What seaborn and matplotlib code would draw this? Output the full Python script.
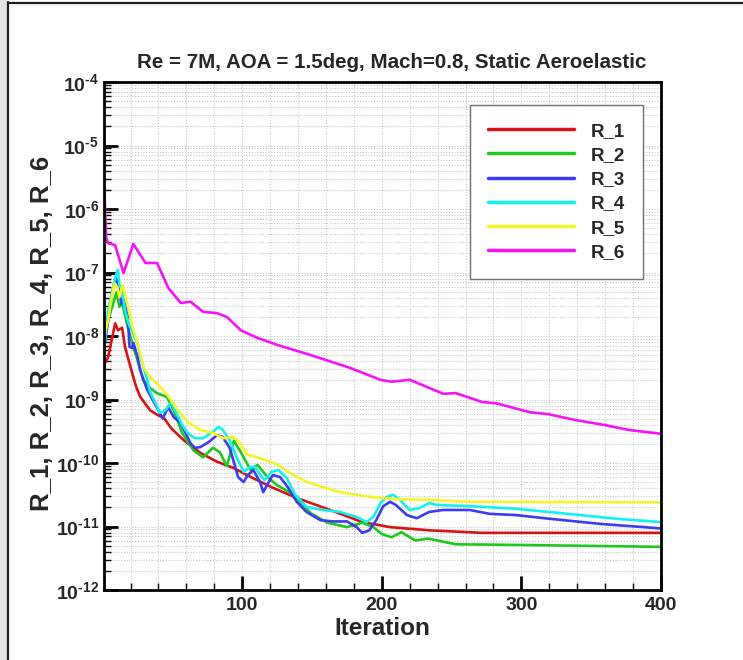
import numpy as np
import pandas as pd
import matplotlib
matplotlib.use("Agg")
import matplotlib.pyplot as plt
import seaborn as sns
from matplotlib.ticker import FixedLocator, FixedFormatter, LogLocator, NullFormatter
from matplotlib.patches import Rectangle
from matplotlib.lines import Line2D

# ---- data (iteration, log10 residual) ----
r1_it = [1, 4, 9, 11, 14, 16, 20, 24, 27, 34, 39, 44, 49, 58, 70, 82, 94, 106, 122, 139, 163, 186, 206, 234, 272, 330, 400]
r1_lg = [-8.46, -8.33, -7.80, -7.91, -7.87, -8.17, -8.49, -8.80, -8.96, -9.17, -9.24, -9.29, -9.45, -9.64, -9.84, -9.98,
         -10.08, -10.22, -10.39, -10.55, -10.74, -10.93, -11.01, -11.06, -11.10, -11.10, -11.10]

r2_it = [1, 4, 10, 12, 14, 18, 22, 25, 29, 34, 39, 46, 51, 57, 65, 72, 79, 84, 89, 94, 99, 106, 111, 118, 125, 134, 139,
         149, 161, 175, 186, 194, 200, 207, 214, 224, 233, 253, 296, 400]
r2_lg = [-8.0, -7.75, -7.31, -7.54, -7.48, -7.86, -8.17, -8.38, -8.69, -8.82, -8.90, -8.96, -9.17, -9.53, -9.80, -9.91,
         -9.76, -9.83, -10.05, -9.65, -9.83, -10.11, -10.03, -10.22, -10.35, -10.46, -10.55, -10.79, -10.94, -11.01,
         -10.94, -11.01, -11.12, -11.17, -11.09, -11.22, -11.19, -11.28, -11.29, -11.32]

r3_it = [1, 4, 7, 9.5, 11.5, 13.6, 15, 18, 19.3, 21.4, 22.1, 25, 27, 29.3, 32, 36, 39, 43, 47, 51, 56, 59, 63, 66, 70,
         76, 82, 86, 91, 95, 97, 101, 104, 108, 113, 115, 119, 122, 127, 133, 139, 146, 156, 165, 175, 182, 186, 191,
         196, 201, 206, 210, 218, 225, 234, 244, 263, 277, 296, 321, 357, 400]
r3_lg = [-8.2, -7.75, -7.30, -7.07, -7.24, -7.50, -7.43, -7.70, -8.17, -8.19, -8.11, -8.33, -8.54, -8.69, -8.85, -9.01,
         -9.13, -9.30, -9.12, -9.28, -9.37, -9.51, -9.69, -9.76, -9.75, -9.67, -9.56, -9.59, -9.76, -10.06, -10.22,
         -10.30, -10.19, -10.11, -10.31, -10.46, -10.30, -10.19, -10.22, -10.39, -10.61, -10.77, -10.90, -10.92,
         -10.92, -11.01, -11.10, -11.06, -10.90, -10.68, -10.61, -10.66, -10.82, -10.87, -10.77, -10.74, -10.74,
         -10.80, -10.82, -10.88, -10.96, -11.03]

r4_it = [1, 4, 8, 10, 11, 12, 14, 16, 19, 21, 23, 25, 27, 32, 34, 38, 41, 45, 49, 52, 57, 61, 66, 72, 79, 83, 86, 91,
         96, 101, 106, 109, 114, 116, 121, 126, 132, 138, 146, 158, 170, 182, 189, 194, 199, 204, 208, 213, 220, 227,
         234, 239, 263, 296, 333, 369, 400]
r4_lg = [-8.2, -7.6, -7.17, -7.01, -6.96, -7.20, -7.28, -7.59, -7.83, -7.91, -8.03, -8.11, -8.33, -8.69, -8.88, -9.06,
         -9.21, -9.17, -9.04, -9.17, -9.40, -9.53, -9.61, -9.61, -9.51, -9.43, -9.48, -9.64, -9.91, -10.14, -10.06,
         -10.06, -10.22, -10.27, -10.14, -10.11, -10.24, -10.50, -10.69, -10.74, -10.77, -10.85, -10.93, -10.85,
         -10.63, -10.53, -10.50, -10.58, -10.74, -10.71, -10.63, -10.66, -10.68, -10.72, -10.80, -10.88, -10.93]

r5_it = [1, 4, 7, 8.6, 10.7, 12, 14.3, 15.7, 18, 21.4, 25, 29.3, 34.3, 40, 46.4, 53.6, 60.7, 70, 79.3, 86.4, 93.6,
         98.6, 103.6, 110.7, 120, 125.7, 134.3, 146.4, 157.9, 170, 182, 193.6, 210.7, 234, 260, 400]
r5_lg = [-8.0, -7.75, -7.32, -7.17, -7.24, -7.39, -7.20, -7.31, -7.51, -7.86, -8.11, -8.49, -8.66, -8.77, -8.93, -9.16,
         -9.35, -9.48, -9.53, -9.61, -9.59, -9.69, -9.87, -9.91, -9.98, -10.03, -10.16, -10.30, -10.38, -10.46, -10.50,
         -10.54, -10.57, -10.58, -10.61, -10.62]

r6_it = [1, 2.5, 4, 9, 15, 22, 30.7, 39, 47, 56, 63, 72, 82, 89, 99, 111, 125, 149, 177, 199, 207, 220, 244, 253, 272,
         282, 306, 319, 338, 359, 377, 400]
r6_lg = [-5.51, -6.45, -6.54, -6.57, -7.01, -6.55, -6.85, -6.85, -7.24, -7.48, -7.46, -7.62, -7.64, -7.70, -7.91, -8.03,
         -8.14, -8.30, -8.50, -8.69, -8.72, -8.69, -8.91, -8.90, -9.04, -9.06, -9.20, -9.23, -9.32, -9.40, -9.48, -9.54]

series_names = ["R_1", "R_2", "R_3", "R_4", "R_5", "R_6"]
series_it = [r1_it, r2_it, r3_it, r4_it, r5_it, r6_it]
series_lg = [r1_lg, r2_lg, r3_lg, r4_lg, r5_lg, r6_lg]
colors = ["#d61414", "#1ec81e", "#3c3cf0", "#14f0f0", "#f5f52a", "#f514f5"]

x_ticks = [100, 200, 300, 400]
y_exps = [-12, -11, -10, -9, -8, -7, -6, -5, -4]

title = "Re = 7M, AOA = 1.5deg, Mach=0.8, Static Aeroelastic"
xlabel = "Iteration"
ylabel = "R_1, R_2, R_3, R_4, R_5, R_6"

frames = []
for name, it, lg in zip(series_names, series_it, series_lg):
    frames.append(pd.DataFrame({"Iteration": it, "Residual": 10.0 ** np.array(lg), "Series": name}))
df = pd.concat(frames, ignore_index=True)

# ---- style ----
sns.set_theme(style="white")
plt.rcParams["font.family"] = ["Liberation Sans", "DejaVu Sans"]
plt.rcParams["font.weight"] = "bold"
plt.rcParams["mathtext.fontset"] = "custom"
plt.rcParams["mathtext.rm"] = "Liberation Sans:bold"
plt.rcParams["mathtext.bf"] = "Liberation Sans:bold"
plt.rcParams["mathtext.it"] = "Liberation Sans:bold"
plt.rcParams["mathtext.default"] = "rm"

fig = plt.figure(figsize=(7.43, 6.60), dpi=100)
ax = fig.add_axes([104 / 743, 1 - 590 / 660, 557 / 743, 508 / 660])

sns.lineplot(data=df, x="Iteration", y="Residual", hue="Series", palette=colors,
             estimator=None, sort=False, linewidth=1.9, ax=ax, legend=False)

ax.set_yscale("log")
ax.set_xlim(1, 400)
ax.set_ylim(1e-12, 1e-4)

ax.yaxis.set_major_locator(FixedLocator([10.0 ** e for e in y_exps]))
ax.yaxis.set_major_formatter(FixedFormatter(["$10^{\u2010%d}$" % abs(e) for e in y_exps]))
ax.yaxis.set_minor_locator(LogLocator(base=10, subs=np.arange(2, 10), numticks=50))
ax.yaxis.set_minor_formatter(NullFormatter())
ax.xaxis.set_major_locator(FixedLocator(x_ticks))
ax.xaxis.set_major_formatter(FixedFormatter([str(v) for v in x_ticks]))
ax.xaxis.set_minor_locator(FixedLocator(list(range(20, 400, 20))))

ax.grid(True, which="both", axis="both", color="#c8c8c8", linestyle=(0, (1, 1.5)), linewidth=0.8)
ax.set_axisbelow(True)

ax.tick_params(axis="both", which="major", direction="in", length=10, width=2, color="black",
               labelsize=14, pad=6, left=True, bottom=True, right=False, top=False)
ax.tick_params(axis="both", which="minor", direction="in", length=5, width=1, color="black",
               left=True, bottom=True, right=False, top=False)
ax.tick_params(axis="x", which="major", pad=5)
ax.tick_params(axis="y", which="major", pad=3.5)
for lab in ax.get_xticklabels() + ax.get_yticklabels():
    lab.set_fontweight("bold")

for side in ["left", "bottom", "right", "top"]:
    ax.spines[side].set_visible(True)
    ax.spines[side].set_color("black")
    ax.spines[side].set_linewidth(2.0)

ax.set_title(title, fontsize=14.8, fontweight="bold", pad=10, x=0.516)
ax.set_xlabel(xlabel, fontsize=17.5, fontweight="bold", labelpad=2)
ax.set_ylabel(ylabel, fontsize=18.5, fontweight="bold")
ax.yaxis.set_label_coords(-0.09, 0.505)

handles = [Line2D([0], [0], color=c, linewidth=2.5) for c in colors]
leg = ax.legend(handles, series_names, loc="upper left", bbox_to_anchor=(0.657, 0.955),
                prop={"weight": "bold", "size": 13.5}, frameon=True, fancybox=False,
                handlelength=4.6, handletextpad=0.9, labelspacing=0.38, borderpad=0.95,
                borderaxespad=0.0)
leg.get_frame().set_edgecolor("#707070")
leg.get_frame().set_linewidth(1.0)
leg.get_frame().set_facecolor("white")
leg.get_frame().set_alpha(1.0)

# screenshot frame around the plot
fig.patches.append(Rectangle((0, 0), 7 / 743, 1, transform=fig.transFigure, facecolor="#e4e4e6",
                             edgecolor="none", zorder=0))
fig.lines.append(Line2D([8 / 743, 8 / 743], [0, 1 - 2 / 660], transform=fig.transFigure, color="#202020", linewidth=1.6))
fig.lines.append(Line2D([8 / 743, 1], [1 - 3 / 660, 1 - 3 / 660], transform=fig.transFigure, color="#202020", linewidth=1.6))

fig.savefig("out.png", dpi=100)
